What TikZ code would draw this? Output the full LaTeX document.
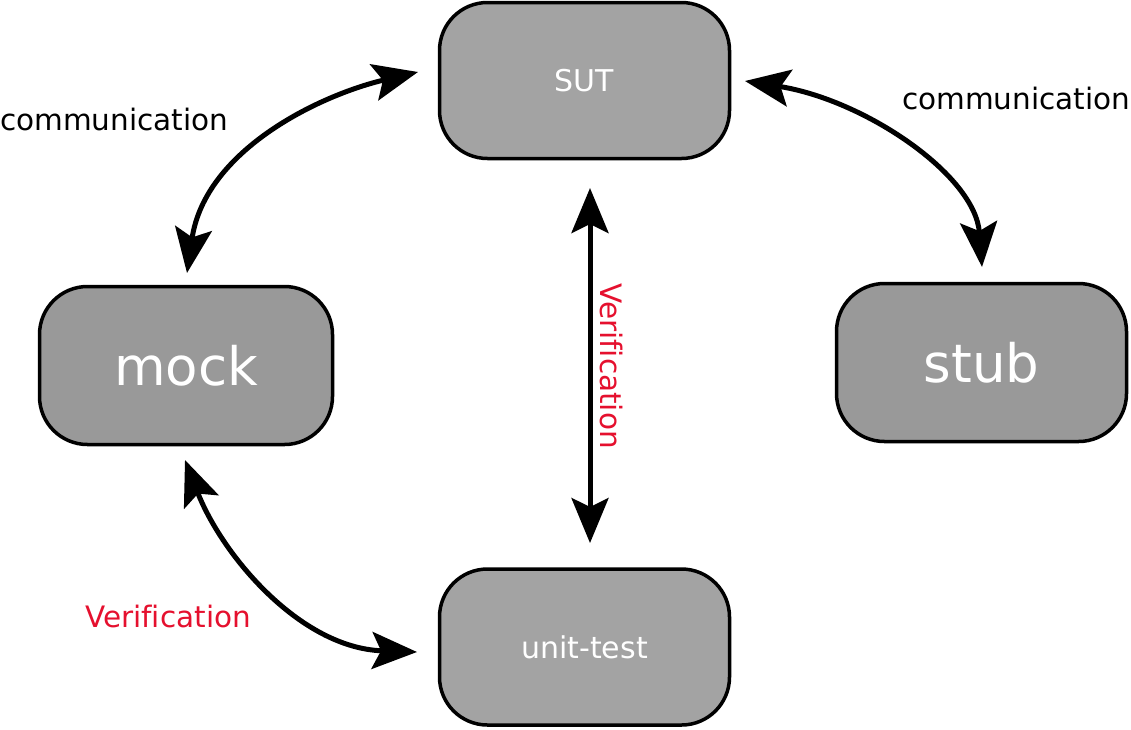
\documentclass[tikz,border=0pt]{standalone}
\usepackage{fontspec}
\setmainfont[Ligatures=NoCommon]{DejaVu Sans}
\usetikzlibrary{arrows.meta}
\definecolor{boxlight}{HTML}{A3A3A3}
\definecolor{boxdark}{HTML}{999999}
\definecolor{verred}{HTML}{E5102E}
\tikzset{
  box/.style={draw=black, line width=3.5pt, rounded corners=48pt, inner sep=0pt,
    text=white, minimum width=290pt, minimum height=156pt},
  smalltxt/.style={font=\fontsize{30}{36}\selectfont},
  bigtxt/.style={font=\fontsize{53}{60}\selectfont},
  conn/.style={line width=5pt, {Stealth[length=45pt,width=37pt,inset=9pt]}-{Stealth[length=45pt,width=37pt,inset=9pt]}},
  lbl/.style={inner sep=0pt, font=\fontsize{29.5}{35}\selectfont}
}
\begin{document}
\begin{tikzpicture}[x=1pt,y=-1pt]
\useasboundingbox (0,0) rectangle (1131,729);
\node[box, fill=boxlight, smalltxt] (sut) at (584.5,80.5) {SUT};
\node[box, fill=boxdark, bigtxt, minimum width=293pt, minimum height=158pt] (mock) at (186,365.5) {mock};
\node[box, fill=boxdark, bigtxt, minimum width=290pt, minimum height=158pt] (stub) at (981.5,362.5) {stub};
\node[box, fill=boxlight, smalltxt] (ut) at (584.5,647) {unit-test};

\coordinate (sutL) at (418,72);
\coordinate (mockT) at (187,273);
\coordinate (sutR) at (745,81);
\coordinate (stubT) at (982,267);
\coordinate (mockB) at (185,460);
\coordinate (utL) at (417,652);
\coordinate (sutB) at (590,188);
\coordinate (utT) at (590,543);

\draw[conn] (mockT) .. controls (205,150) and (320,95) .. (sutL);
\draw[conn] (sutR) .. controls (865,100) and (975,175) .. (stubT);
\draw[conn] (mockB) .. controls (222,555) and (300,648) .. (utL);
\draw[conn] (sutB) -- (utT);

\node[lbl, anchor=base west] (c1) at (0,130) {communication};
\node[lbl, anchor=base west] (c2) at (902,109) {communication};
\node[lbl, anchor=base west, text=verred] (v1) at (85,627) {Verification};
\node[lbl, rotate=-90, text=verred] (v2) at (611,366) {Verification};
\end{tikzpicture}
\end{document}
